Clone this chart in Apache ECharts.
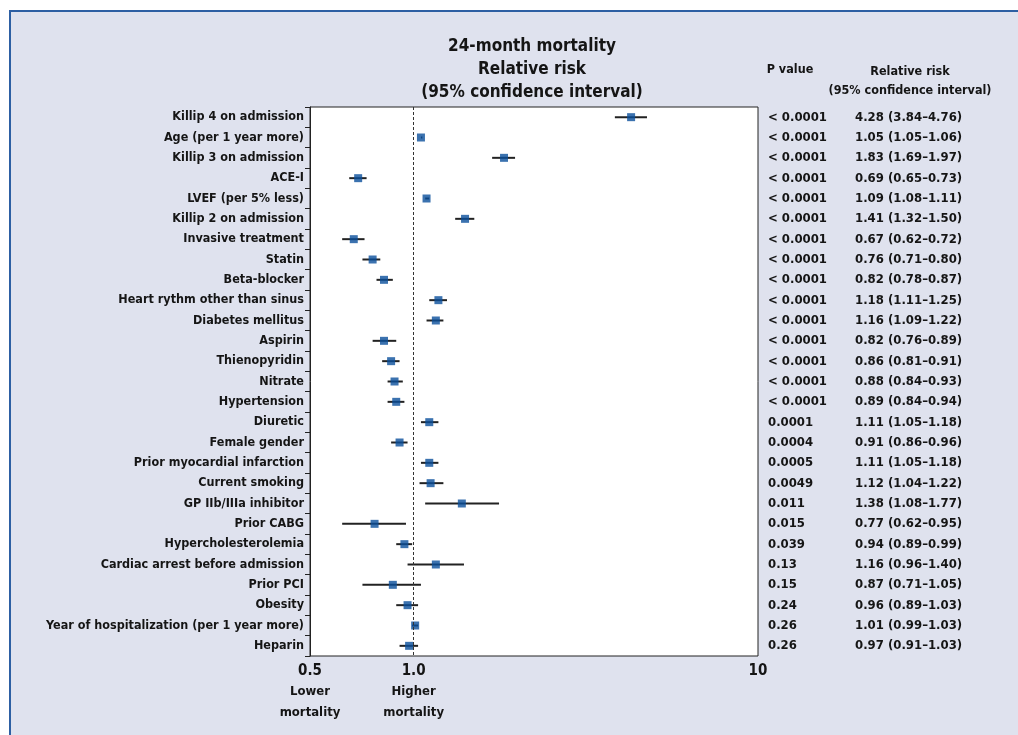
<!DOCTYPE html>
<html>
<head>
<meta charset="utf-8">
<script src="https://cdn.jsdelivr.net/npm/echarts@6/dist/echarts.min.js"></script>
<style>
html, body { margin: 0; padding: 0; background: #fff; }
#chart { width: 1018px; height: 735px; }
</style>
</head>
<body>
<div id="chart"></div>
<script>
var FONT = "'Liberation Sans Narrow', 'DejaVu Sans Condensed', 'Noto Sans', sans-serif";

// categories, top to bottom
var factors = [
    'Killip 4 on admission', 'Age (per 1 year more)', 'Killip 3 on admission', 'ACE-I',
    'LVEF (per 5% less)', 'Killip 2 on admission', 'Invasive treatment', 'Statin',
    'Beta-blocker', 'Heart rythm other than sinus', 'Diabetes mellitus', 'Aspirin',
    'Thienopyridin', 'Nitrate', 'Hypertension', 'Diuretic', 'Female gender',
    'Prior myocardial infarction', 'Current smoking', 'GP IIb/IIIa inhibitor', 'Prior CABG',
    'Hypercholesterolemia', 'Cardiac arrest before admission', 'Prior PCI', 'Obesity',
    'Year of hospitalization (per 1 year more)', 'Heparin'
];
var rr = [4.28, 1.05, 1.83, 0.69, 1.09, 1.41, 0.67, 0.76, 0.82, 1.18, 1.16, 0.82, 0.86, 0.88,
    0.89, 1.11, 0.91, 1.11, 1.12, 1.38, 0.77, 0.94, 1.16, 0.87, 0.96, 1.01, 0.97];
var ciLow = [3.84, 1.05, 1.69, 0.65, 1.08, 1.32, 0.62, 0.71, 0.78, 1.11, 1.09, 0.76, 0.81, 0.84,
    0.84, 1.05, 0.86, 1.05, 1.04, 1.08, 0.62, 0.89, 0.96, 0.71, 0.89, 0.99, 0.91];
var ciHigh = [4.76, 1.06, 1.97, 0.73, 1.11, 1.50, 0.72, 0.80, 0.87, 1.25, 1.22, 0.89, 0.91, 0.93,
    0.94, 1.18, 0.96, 1.18, 1.22, 1.77, 0.95, 0.99, 1.40, 1.05, 1.03, 1.03, 1.03];
var pValues = ['< 0.0001', '< 0.0001', '< 0.0001', '< 0.0001', '< 0.0001', '< 0.0001', '< 0.0001',
    '< 0.0001', '< 0.0001', '< 0.0001', '< 0.0001', '< 0.0001', '< 0.0001', '< 0.0001', '< 0.0001',
    '0.0001', '0.0004', '0.0005', '0.0049', '0.011', '0.015', '0.039', '0.13', '0.15', '0.24',
    '0.26', '0.26'];
var xTickLabels = { 0.5: ['0.5', 'Lower', 'mortality'], 1: ['1.0', 'Higher', 'mortality'], 10: ['10'] };

function fmt(v) { return v.toFixed(2); }

var ciData = [], pointData = [];
for (var i = 0; i < factors.length; i++) {
    ciData.push([ciLow[i], ciHigh[i], i]);
    pointData.push([rr[i], i]);
}

var option = {
    animation: false,
    textStyle: { fontFamily: FONT },
    graphic: [
        {
            type: 'rect', z: -10, silent: true,
            shape: { x: 10, y: 11, width: 1030, height: 740 },
            style: { fill: '#dfe2ee', stroke: '#2d5fa3', lineWidth: 2 }
        },
        {
            type: 'text', x: 532, y: 35, silent: true,
            style: {
                text: '24-month mortality\nRelative risk\n(95% confidence interval)',
                align: 'center', verticalAlign: 'top',
                font: 'bold 17px ' + FONT, lineHeight: 23, fill: '#151515'
            }
        },
        {
            type: 'text', x: 790, y: 63, silent: true,
            style: { text: 'P value', align: 'center', verticalAlign: 'top', font: 'bold 12.5px ' + FONT, fill: '#151515' }
        },
        {
            type: 'text', x: 910, y: 62, silent: true,
            style: {
                text: 'Relative risk\n(95% confidence interval)', align: 'center', verticalAlign: 'top',
                font: 'bold 12.5px ' + FONT, lineHeight: 19, fill: '#151515'
            }
        }
    ],
    grid: {
        left: 310, right: 260, top: 107, bottom: 79,
        show: true, backgroundColor: '#fff', borderColor: '#222', borderWidth: 1
    },
    xAxis: {
        type: 'log',
        logBase: 10,
        min: 0.5,
        max: 10,
        axisLine: { show: false },
        axisTick: { show: false },
        splitLine: { show: false },
        axisLabel: {
            showMinLabel: true,
            showMaxLabel: true,
            margin: 5,
            formatter: function (v) {
                var key = Math.round(v * 10) / 10;
                var t = xTickLabels[key];
                if (!t) return '';
                var s = '{n|' + t[0] + '}';
                for (var k = 1; k < t.length; k++) s += '\n{s|' + t[k] + '}';
                return s;
            },
            rich: {
                n: { fontFamily: FONT, fontWeight: 'bold', fontSize: 15, color: '#151515', lineHeight: 20 },
                s: { fontFamily: FONT, fontWeight: 'bold', fontSize: 13, color: '#151515', lineHeight: 21 }
            }
        }
    },
    yAxis: [
        {
            type: 'category',
            inverse: true,
            data: factors,
            axisLine: { show: true, lineStyle: { color: '#222' } },
            axisTick: { show: true, length: 5, lineStyle: { color: '#222' } },
            axisLabel: {
                margin: 6,
                fontFamily: FONT, fontWeight: 'bold', fontSize: 12.5, color: '#151515'
            }
        },
        {
            type: 'category',
            inverse: true,
            position: 'right',
            data: factors,
            axisLine: { show: false },
            axisTick: { show: false },
            axisLabel: {
                margin: 10,
                formatter: function (v, idx) {
                    return '{p|' + pValues[idx] + '}{r|' + fmt(rr[idx]) + ' (' + fmt(ciLow[idx]) + '\u2013' + fmt(ciHigh[idx]) + ')}';
                },
                rich: {
                    p: { width: 87, fontFamily: FONT, fontWeight: 'bold', fontSize: 13, color: '#151515' },
                    r: { fontFamily: FONT, fontWeight: 'bold', fontSize: 13, color: '#151515' }
                }
            }
        }
    ],
    series: [
        {
            type: 'custom',
            name: 'CI',
            silent: true,
            encode: { x: [0, 1], y: 2 },
            data: ciData,
            renderItem: function (params, api) {
                var a = api.coord([api.value(0), api.value(2)]);
                var b = api.coord([api.value(1), api.value(2)]);
                return {
                    type: 'line',
                    shape: { x1: a[0], y1: a[1], x2: b[0], y2: b[1] },
                    style: { stroke: '#222', lineWidth: 2 }
                };
            },
            z: 2
        },
        {
            type: 'scatter',
            name: 'Relative risk',
            symbol: 'rect',
            symbolSize: 8,
            data: pointData,
            itemStyle: { color: '#0a4f9b' },
            markLine: {
                silent: true,
                symbol: 'none',
                label: { show: false },
                lineStyle: { color: '#333', type: [3, 2], width: 1 },
                data: [{ xAxis: 1 }]
            },
            z: 3
        }
    ]
};

var chart = echarts.init(document.getElementById('chart'), null, { renderer: 'canvas' });
chart.setOption(option);
</script>
</body>
</html>
